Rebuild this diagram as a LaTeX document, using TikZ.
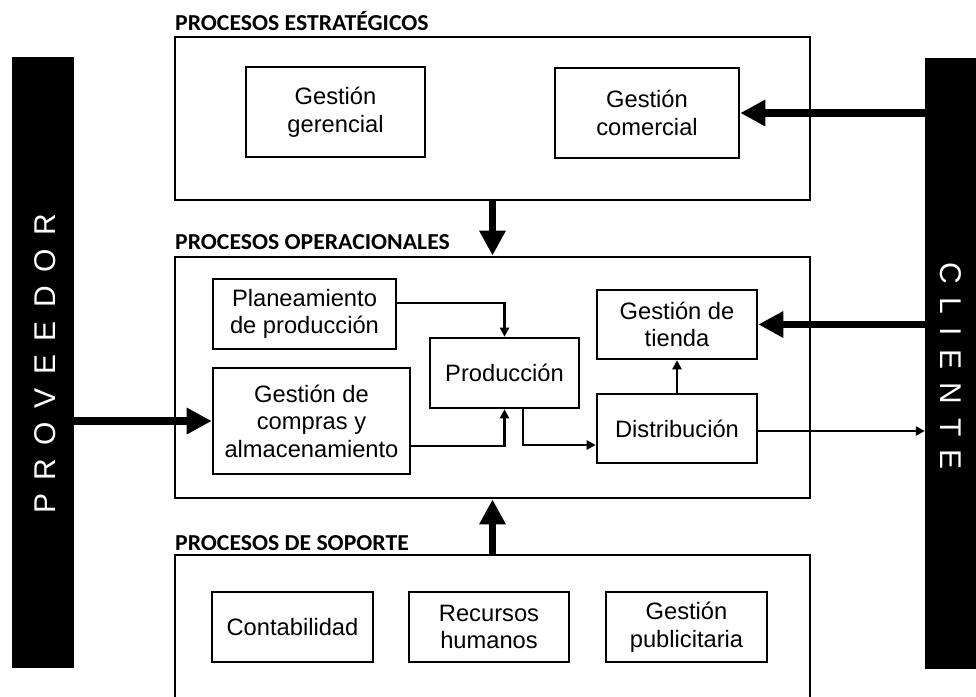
\documentclass[tikz,border=0pt]{standalone}
\usepackage{fontspec}
\setmainfont{Liberation Sans}
\newfontfamily\lblfont[FakeStretch=1.04]{Carlito}
\newfontfamily\sidefont[LetterSpace=45]{Liberation Sans}
\usetikzlibrary{arrows.meta}

\tikzset{
  proc/.style={draw=black, line width=2.6pt, inner sep=0pt, align=center,
    font=\fontsize{23.7}{27.5}\selectfont},
  group/.style={draw=black, line width=2.8pt, inner sep=0pt},
  grouplabel/.style={anchor=base west, inner sep=0pt,
    font=\lblfont\bfseries\fontsize{22.8}{23}\selectfont},
  sidebar/.style={fill=black, draw=none, inner sep=0pt, text=white,
    font=\sidefont\fontsize{30}{30}\selectfont},
  flow/.style={line width=2.2pt, -{Triangle[length=9pt,width=9pt]}},
  bigflow/.style={line width=7.5pt, -{Triangle[length=25pt,width=25pt]}},
}

\begin{document}
\begin{tikzpicture}[x=1pt,y=-1pt]
\clip (0,0) rectangle (976,696);
\fill[white] (0,0) rectangle (976,696);

% side actors
\node[sidebar, minimum width=62pt, minimum height=611pt] (prov) at (43,362.5) {};
\node[sidebar, rotate=90] at (45,364) {PROVEEDOR};
\node[sidebar, minimum width=65pt, minimum height=611pt] (cli) at (957.5,363.5) {};
\node[sidebar, rotate=-90] at (951,366) {CLIENTE};

% process groups
\node[group, minimum width=635pt, minimum height=163pt] (estr) at (492.5,118.5) {};
\node[group, minimum width=635pt, minimum height=241pt] (oper) at (492.5,377.5) {};
\node[group, minimum width=635pt, minimum height=180pt] (sop) at (492.5,645) {};

\node[grouplabel] (lestr) at (175,30) {PROCESOS ESTRATÉGICOS};
\node[grouplabel] (loper) at (175,249) {PROCESOS OPERACIONALES};
\node[grouplabel] (lsop) at (175,550) {PROCESOS DE SOPORTE};

% strategic processes
\node[proc, minimum width=179pt, minimum height=90pt] (ger) at (335.5,112) {Gestión\\gerencial};
\node[proc, minimum width=184pt, minimum height=90pt] (com) at (647,113) {Gestión\\comercial};

% operational processes
\node[proc, minimum width=183pt, minimum height=70pt] (plan) at (304.5,314) {Planeamiento\\de producción};
\node[proc, minimum width=197pt, minimum height=106pt] (comp) at (311.5,421) {Gestión de\\compras y\\almacenamiento};
\node[proc, minimum width=149pt, minimum height=70pt] (prod) at (504.5,373) {Producción};
\node[proc, minimum width=160pt, minimum height=69pt] (tienda) at (677,324.5) {Gestión de\\tienda};
\node[proc, minimum width=160pt, minimum height=69pt] (dist) at (677,428.5) {Distribución};

% support processes
\node[proc, minimum width=161pt, minimum height=70pt] (cont) at (292.5,627) {Contabilidad};
\node[proc, minimum width=160pt, minimum height=70pt] (rrhh) at (489,627) {Recursos\\humanos};
\node[proc, minimum width=161pt, minimum height=70pt] (pub) at (686.5,627) {Gestión\\publicitaria};

% main flows
\draw[bigflow] (cli.west |- com.east) -- (com.east);
\draw[bigflow] (cli.west |- tienda.east) -- (tienda.east);
\draw[bigflow] (prov.east |- comp.west) -- (comp.west);
\draw[bigflow] (estr.south) -- (oper.north);
\draw[bigflow] (sop.north) -- (oper.south);

% internal flows
\draw[flow] ([yshift=11pt]plan.east) -| (prod.north);
\draw[flow] ([yshift=-25pt]comp.east) -| (prod.south);
\draw[flow] ([xshift=18.5pt]prod.south) |- ([yshift=-16.5pt]dist.west);
\draw[flow] (dist.north) -- (tienda.south);
\draw[flow] ([yshift=-2.5pt]dist.east) -- ([yshift=-2.5pt]dist.east -| cli.west);
\end{tikzpicture}
\end{document}
